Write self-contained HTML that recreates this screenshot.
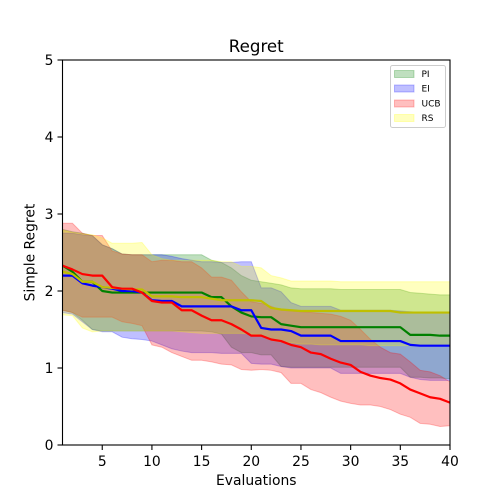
<!DOCTYPE html>
<html>
<head>
<meta charset="utf-8">
<title>Regret</title>
<style>
html,body{margin:0;padding:0;background:#fff;width:500px;height:500px;overflow:hidden}
svg{display:block}
text{font-family:"DejaVu Sans","Liberation Sans",sans-serif;fill:#000}
</style>
</head>
<body>
<svg id="chart" width="500" height="500" viewBox="0 0 500 500" xmlns="http://www.w3.org/2000/svg">
<defs><clipPath id="plot-clip"><rect x="62.5" y="60" width="387.5" height="385"></rect></clipPath></defs>
<rect x="62.5" y="60" width="387.5" height="385" fill="#fff"></rect>
<g id="bands" clip-path="url(#plot-clip)"></g>
<g id="lines" clip-path="url(#plot-clip)"></g>
<rect x="62.5" y="60" width="387.5" height="385" fill="none" stroke="#000" stroke-width="1.1"></rect>
<g id="axes"></g>
<text x="256.25" y="52" font-size="16.67" text-anchor="middle">Regret</text>
<text x="256.25" y="485" font-size="13.9" text-anchor="middle">Evaluations</text>
<text transform="translate(34.5,252.5) rotate(-90)" font-size="13.9" text-anchor="middle">Simple Regret</text>
<g>
<rect x="390.5" y="65.5" width="55" height="62" rx="2" fill="#fff" fill-opacity="0.8" stroke="#ccc" stroke-width="1"></rect>
<rect x="394.5" y="70.5" width="19.5" height="7" fill="#008000" fill-opacity="0.25" stroke="#008000" stroke-opacity="0.25"></rect>
<text x="421.5" y="77" font-size="9">PI</text>
<rect x="394.5" y="85" width="19.5" height="7" fill="#0000ff" fill-opacity="0.25" stroke="#0000ff" stroke-opacity="0.25"></rect>
<text x="421.5" y="91.5" font-size="9">EI</text>
<rect x="394.5" y="100" width="19.5" height="7" fill="#ff0000" fill-opacity="0.25" stroke="#ff0000" stroke-opacity="0.25"></rect>
<text x="421.5" y="106.5" font-size="9">UCB</text>
<rect x="394.5" y="114.5" width="19.5" height="7" fill="#ffff00" fill-opacity="0.25" stroke="#ffff00" stroke-opacity="0.25"></rect>
<text x="421.5" y="121" font-size="9">RS</text>
</g>
</svg>
<script>
const xTicks = [5, 10, 15, 20, 25, 30, 35, 40];
const yTicks = [0, 1, 2, 3, 4, 5];

const piMean = [2.33,2.25,2.12,2.12,2.0,1.98,1.98,1.98,1.98,1.98,1.98,1.98,1.98,1.98,1.98,1.92,1.92,1.8,1.72,1.67,1.66,1.66,1.57,1.55,1.53,1.53,1.53,1.53,1.53,1.53,1.53,1.53,1.53,1.53,1.53,1.43,1.43,1.43,1.42,1.42];
const piUpper = [2.8,2.77,2.75,2.72,2.6,2.55,2.48,2.47,2.47,2.47,2.47,2.47,2.47,2.47,2.47,2.4,2.37,2.3,2.2,2.14,2.12,2.1,2.08,2.04,2.03,2.03,2.03,2.03,2.02,2.02,2.02,2.02,2.02,2.02,2.02,1.98,1.97,1.96,1.95,1.95];
const piLower = [1.75,1.72,1.62,1.5,1.48,1.48,1.48,1.48,1.48,1.48,1.48,1.48,1.48,1.48,1.48,1.47,1.44,1.27,1.2,1.2,1.17,1.17,1.02,1.01,1.01,1.01,1.01,1.01,1.01,1.01,1.01,1.01,1.01,1.01,1.01,0.88,0.88,0.87,0.87,0.86];

const eiMean = [2.2,2.2,2.1,2.07,2.05,2.03,2.0,2.0,1.98,1.88,1.87,1.87,1.8,1.8,1.8,1.8,1.8,1.8,1.75,1.75,1.52,1.5,1.5,1.48,1.42,1.42,1.42,1.42,1.35,1.35,1.35,1.35,1.35,1.35,1.35,1.3,1.29,1.29,1.29,1.29];
const eiUpper = [2.75,2.75,2.73,2.72,2.6,2.55,2.48,2.47,2.47,2.47,2.47,2.45,2.42,2.4,2.38,2.38,2.37,2.37,2.38,2.38,2.04,2.04,1.99,1.85,1.8,1.8,1.8,1.8,1.75,1.75,1.75,1.75,1.75,1.75,1.74,1.73,1.72,1.72,1.72,1.72];
const eiLower = [1.72,1.7,1.6,1.5,1.47,1.47,1.4,1.38,1.37,1.35,1.3,1.25,1.22,1.2,1.2,1.2,1.19,1.19,1.19,1.06,1.05,1.05,1.02,1.0,1.0,1.0,1.0,1.0,0.93,0.93,0.93,0.93,0.93,0.93,0.93,0.88,0.85,0.84,0.84,0.84];

const ucbMean = [2.33,2.28,2.22,2.2,2.2,2.05,2.03,2.03,1.98,1.87,1.85,1.85,1.75,1.75,1.68,1.62,1.62,1.57,1.5,1.42,1.42,1.37,1.35,1.3,1.27,1.2,1.18,1.12,1.07,1.04,0.95,0.9,0.87,0.85,0.8,0.72,0.67,0.62,0.6,0.55];
const ucbUpper = [2.88,2.88,2.75,2.72,2.72,2.52,2.48,2.47,2.47,2.38,2.4,2.4,2.38,2.38,2.3,2.18,2.18,2.14,1.99,1.86,1.84,1.8,1.75,1.74,1.73,1.72,1.71,1.7,1.67,1.62,1.5,1.37,1.27,1.2,1.18,1.08,0.97,0.95,0.9,0.82];
const ucbLower = [1.75,1.72,1.66,1.66,1.66,1.66,1.6,1.58,1.55,1.3,1.27,1.2,1.15,1.1,1.1,1.08,1.05,1.04,0.98,0.97,0.98,0.97,0.94,0.8,0.8,0.72,0.68,0.62,0.57,0.54,0.52,0.52,0.5,0.46,0.4,0.36,0.28,0.27,0.24,0.25];

const rsMean = [2.25,2.22,2.12,2.12,2.05,2.04,2.03,2.02,2.02,1.93,1.93,1.93,1.92,1.92,1.92,1.9,1.88,1.88,1.88,1.88,1.87,1.78,1.76,1.75,1.74,1.74,1.74,1.74,1.74,1.74,1.74,1.74,1.74,1.74,1.72,1.72,1.72,1.72,1.72,1.72];
const rsUpper = [2.79,2.76,2.74,2.73,2.69,2.62,2.62,2.62,2.63,2.47,2.42,2.4,2.4,2.4,2.4,2.4,2.38,2.38,2.32,2.32,2.3,2.2,2.17,2.13,2.13,2.13,2.13,2.13,2.12,2.12,2.12,2.12,2.12,2.12,2.12,2.12,2.12,2.12,2.12,2.12];
const rsLower = [1.69,1.68,1.52,1.47,1.48,1.48,1.48,1.48,1.48,1.48,1.48,1.48,1.47,1.46,1.45,1.45,1.45,1.45,1.45,1.44,1.43,1.36,1.34,1.33,1.31,1.31,1.3,1.3,1.3,1.3,1.3,1.29,1.29,1.29,1.29,1.29,1.29,1.29,1.29,1.29];

function xScale(v) { return 62.5 + (v - 1) * (387.5 / 39); }
function yScale(v) { return 445 - v * 77; }

const NS = 'http://www.w3.org/2000/svg';
const bandsGroup = document.getElementById('bands');
const linesGroup = document.getElementById('lines');
const axesGroup = document.getElementById('axes');

function pointsOf(values) {
  return values.map(function (v, i) { return xScale(i + 1).toFixed(2) + ',' + yScale(v).toFixed(2); });
}

function drawBand(upper, lower, color, name) {
  const el = document.createElementNS(NS, 'polygon');
  el.setAttribute('points', pointsOf(upper).concat(pointsOf(lower).reverse()).join(' '));
  el.setAttribute('fill', color);
  el.setAttribute('fill-opacity', '0.25');
  el.setAttribute('stroke', color);
  el.setAttribute('stroke-opacity', '0.25');
  el.setAttribute('stroke-width', '1');
  
  
  bandsGroup.appendChild(el);
}

function drawLine(values, color, name) {
  const el = document.createElementNS(NS, 'polyline');
  el.setAttribute('points', pointsOf(values).join(' '));
  el.setAttribute('fill', 'none');
  el.setAttribute('stroke', color);
  el.setAttribute('stroke-width', '2.2');
  el.setAttribute('stroke-linejoin', 'round');
  
  
  linesGroup.appendChild(el);
}

drawBand(piUpper, piLower, '#008000', 'band-pi');
drawBand(eiUpper, eiLower, '#0000ff', 'band-ei');
drawBand(ucbUpper, ucbLower, '#ff0000', 'band-ucb');
drawBand(rsUpper, rsLower, '#ffff00', 'band-rs');

drawLine(piMean, '#008000', 'line-pi');
drawLine(eiMean, '#0000ff', 'line-ei');
drawLine(rsMean, '#bfbf00', 'line-rs');
drawLine(ucbMean, '#ff0000', 'line-ucb');

xTicks.forEach(function (t) {
  const px = xScale(t);
  const mark = document.createElementNS(NS, 'line');
  mark.setAttribute('x1', px);
  mark.setAttribute('x2', px);
  mark.setAttribute('y1', 445);
  mark.setAttribute('y2', 450);
  mark.setAttribute('stroke', '#000');
  mark.setAttribute('stroke-width', '1.1');
  
  
  axesGroup.appendChild(mark);
  const label = document.createElementNS(NS, 'text');
  label.setAttribute('x', px);
  label.setAttribute('y', 466);
  label.setAttribute('font-size', '13.9');
  label.setAttribute('text-anchor', 'middle');
  
  
  label.textContent = t;
  axesGroup.appendChild(label);
});

yTicks.forEach(function (t) {
  const py = yScale(t);
  const mark = document.createElementNS(NS, 'line');
  mark.setAttribute('x1', 57.5);
  mark.setAttribute('x2', 62.5);
  mark.setAttribute('y1', py);
  mark.setAttribute('y2', py);
  mark.setAttribute('stroke', '#000');
  mark.setAttribute('stroke-width', '1.1');
  
  
  axesGroup.appendChild(mark);
  const label = document.createElementNS(NS, 'text');
  label.setAttribute('x', 53.5);
  label.setAttribute('y', py + 5);
  label.setAttribute('font-size', '13.9');
  label.setAttribute('text-anchor', 'end');
  
  
  label.textContent = t;
  axesGroup.appendChild(label);
});
</script>
</body>
</html>
